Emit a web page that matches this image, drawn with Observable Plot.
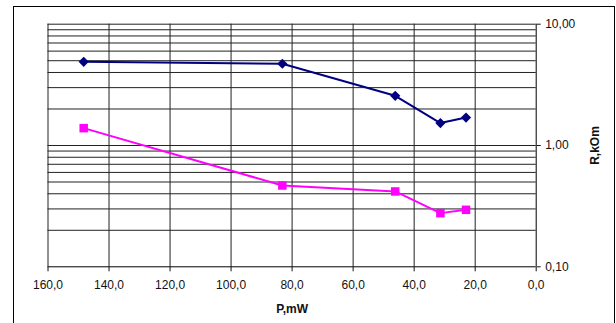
<!DOCTYPE html>
<html><head><meta charset="utf-8">
<script src="https://cdn.jsdelivr.net/npm/d3@7"></script>
<script src="https://cdn.jsdelivr.net/npm/@observablehq/plot@0.6"></script>
<style>
body{margin:0;background:#fff;}
#wrap{position:relative;width:616px;height:323px;overflow:hidden;background:#fff;}
#frame{position:absolute;left:13px;top:6px;width:600px;height:340px;border:1px solid #000;pointer-events:none;}
</style></head><body>
<div id="wrap"><div id="frame"></div></div>
<script>
const power = [148.3, 83.2, 46.2, 31.4, 23.0];
const rBlue = [4.90, 4.72, 2.57, 1.53, 1.70];
const rPink = [1.39, 0.468, 0.418, 0.277, 0.295];
const xTicks = [160, 140, 120, 100, 80, 60, 40, 20, 0];
const xGrid = [160, 140, 120, 100, 80, 60, 40, 20];
const yTicks = [0.1, 1, 10];
const yGrid = [0.2, 0.3, 0.4, 0.5, 0.6, 0.7, 0.8, 0.9, 1, 2, 3, 4, 5, 6, 7, 8, 9, 10];

const blue = power.map((p, i) => ({p, r: rBlue[i]}));
const pink = power.map((p, i) => ({p, r: rPink[i]}));
const comma = (d, n) => d.toFixed(n).replace(".", ",");

const chart = Plot.plot({
  width: 616, height: 323,
  marginLeft: 47.5, marginRight: 80.3, marginTop: 23.7, marginBottom: 56.7,
  style: {fontFamily: "'Liberation Sans', Arial, sans-serif", fontSize: "12px", color: "#111", background: "transparent"},
  x: {domain: [160, 0]},
  y: {type: "log", domain: [0.1, 10]},
  marks: [
    Plot.ruleY(yGrid, {y: d => d, stroke: "#222", strokeWidth: 1}),
    Plot.ruleX(xGrid, {x: d => d, stroke: "#222", strokeWidth: 1}),
    Plot.ruleX([0], {stroke: "#000"}),
    Plot.ruleY([0.1], {stroke: "#000"}),
    Plot.axisX({ticks: xTicks, tickFormat: d => comma(d, 1), tickSize: 5, tickPadding: 9, label: null, fontSize: 12}),
    Plot.axisY({anchor: "right", ticks: yTicks, tickFormat: d => comma(d, 2), tickSize: 4, tickPadding: 5, label: null, fontSize: 12}),
    Plot.text(["P,mW"], {frameAnchor: "bottom", dy: 46, fontWeight: "bold", fontSize: 12, textAnchor: "middle"}),
    Plot.text(["R,kOm"], {frameAnchor: "right", dx: 59, rotate: -90, fontWeight: "bold", fontSize: 12, textAnchor: "middle", lineAnchor: "middle"}),
    Plot.line(blue, {x: "p", y: "r", stroke: "#000080", strokeWidth: 2}),
    Plot.dot(blue, {x: "p", y: "r", symbol: "diamond2", r: 4.6, fill: "#000080", stroke: "none"}),
    Plot.line(pink, {x: "p", y: "r", stroke: "#ff00ff", strokeWidth: 2}),
    Plot.dot(pink, {x: "p", y: "r", symbol: "square2", r: 5.4, fill: "#ff00ff", stroke: "none"})
  ]
});
chart.style.position = "absolute";
chart.style.left = "0";
chart.style.top = "0";
document.getElementById("wrap").appendChild(chart);
</script>
</body></html>
